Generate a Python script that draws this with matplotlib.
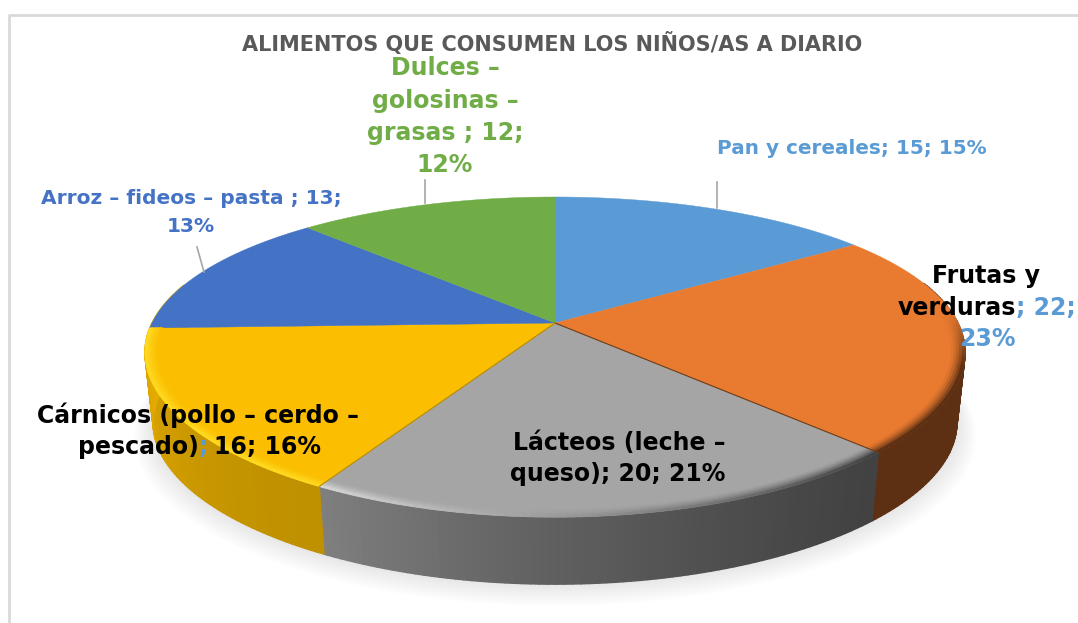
import numpy as np
import matplotlib
matplotlib.use('Agg')
import matplotlib.pyplot as plt
from matplotlib.collections import PolyCollection
from matplotlib.colors import to_rgb

# Values
categories = ['Pan y cereales', 'Frutas y verduras', 'Lácteos', 'Cárnicos', 'Arroz', 'Dulces']
values = [15, 22, 20, 16, 13, 12]
percents = [15, 23, 21, 16, 13, 12]
colors = ['#5B9BD5', '#E97B30', '#A5A5A5', '#FBBE00', '#4472C4', '#70AD47']
wall_start = ['#5B9BD5', '#5E3013', '#424242', '#BF9000', '#E6AC00', '#E6AC00']
wall_end = ['#5B9BD5', '#5E3013', '#808080', '#E6AC00', '#E6AC00', '#E6AC00']
bevel_start = ['#5B9BD5', '#5E3013', '#424242', '#FFD820', '#4472C4', '#70AD47']
bevel_end = ['#5B9BD5', '#5E3013', '#D8D8D8', '#FFD820', '#4472C4', '#70AD47']

BLUE = '#5B9BD5'
cx, cy = 555, 323
k = 0.2126
kx = 0.185
a, b = 152.8, 403
depth = 68
shrink = 0.98


def project(theta, r=1.0, low=False):
    # theta in degrees clockwise from the top, perspective squeezes the far side
    u = r * np.sin(np.radians(theta))
    v = r * np.cos(np.radians(theta))
    x = b * u / (1 + kx * v)
    y = -a * v / (1 + k * v)
    if low:
        return cx + x * shrink, cy + y * shrink + depth + 3
    return cx + x, cy + y


def blend(c1, c2, t):
    return tuple((1 - t) * np.array(to_rgb(c1)) + t * np.array(to_rgb(c2)))


fig = plt.figure(figsize=(10.78, 6.23), dpi=100)
ax = fig.add_axes([0, 0, 1, 1])
ax.set_xlim(0, 1078)
ax.set_ylim(623, 0)
ax.axis('off')

# chart frame
ax.plot([9, 9, 1078], [623, 15, 15], color='#D9D9D9', lw=2, zorder=1)

bounds = np.cumsum([0] + values) / sum(values) * 360

# soft shadow below the pie
th = np.linspace(0, 360, 361)
lx, ly = project(th, low=True)
for i in range(1, 13):
    s = 1 + i * 0.004
    ax.fill(cx + (lx - cx) * s, cy + 30 + (ly - cy - 30) * s + i * 0.9,
            color='black', alpha=0.009, lw=0, zorder=2)

# side wall, only the front part shows
polys, cols = [], []
for i in range(len(values)):
    steps = np.arange(bounds[i], bounds[i + 1], 1.0)
    steps = np.append(steps, bounds[i + 1])
    for t0, t1 in zip(steps[:-1], steps[1:]):
        if t1 < 75 or t0 > 285:
            continue
        x0, y0 = project(t0)
        x1, y1 = project(t1)
        x2, y2 = project(t1, low=True)
        x3, y3 = project(t0, low=True)
        polys.append([(x0, y0), (x1, y1), (x2, y2), (x3, y3)])
        frac = (t0 - bounds[i]) / (bounds[i + 1] - bounds[i])
        cols.append(blend(wall_start[i], wall_end[i], frac ** 1.4))
ax.add_collection(PolyCollection(polys, facecolors=cols, edgecolors=cols, linewidths=1.0, zorder=3))

# top face
for i in range(len(values)):
    th = np.linspace(bounds[i], bounds[i + 1], 120)
    x, y = project(th)
    ax.fill(np.r_[cx, x], np.r_[cy, y], color=colors[i], lw=0.3, zorder=4)

# bevel along the front rim, fades out towards the back
radii = np.linspace(0.968, 1.0, 6)
polys, cols = [], []
for i in range(len(values)):
    steps = np.arange(bounds[i], bounds[i + 1], 1.0)
    steps = np.append(steps, bounds[i + 1])
    for t0, t1 in zip(steps[:-1], steps[1:]):
        if t1 < 85 or t0 > 268:
            continue
        frac = (t0 - bounds[i]) / (bounds[i + 1] - bounds[i])
        edge = blend(bevel_start[i], bevel_end[i], frac)
        fade = min(1, max(0, (t0 - 85) / 20))
        for r0, r1 in zip(radii[:-1], radii[1:]):
            x0, y0 = project(t0, r0)
            x1, y1 = project(t1, r0)
            x2, y2 = project(t1, r1)
            x3, y3 = project(t0, r1)
            polys.append([(x0, y0), (x1, y1), (x2, y2), (x3, y3)])
            mix = (r1 - radii[0]) / (radii[-1] - radii[0])
            cols.append(blend(colors[i], edge, fade * mix ** 1.5))
ax.add_collection(PolyCollection(polys, facecolors=cols, edgecolors=cols, linewidths=0.7, zorder=5))

# thin lines between slices on the lit side
x, y = project(bounds[2])
ax.plot([cx, x], [cy, y], color='#6E3A12', lw=0.8, zorder=6)
x, y = project(bounds[3])
ax.plot([cx, x], [cy, y], color='#B58A00', lw=0.8, zorder=6)

# leader lines
ax.plot([717, 717], [182, 208], color='#A6A6A6', lw=1.2, zorder=6)
ax.plot([425, 425], [180, 203], color='#A6A6A6', lw=1.2, zorder=6)
ax.plot([197, 204], [247, 272], color='#A6A6A6', lw=1.2, zorder=6)

fam = ['DejaVu Sans']
font = dict(family=fam, weight='bold', zorder=8)
LS = 17
MS = 14.5

ax.text(552, 43, 'ALIMENTOS QUE CONSUMEN LOS NIÑOS/AS A DIARIO', color='#595959',
        fontsize=15, ha='center', va='center', **font)
ax.text(351, -9, 'p', family='Liberation Serif', fontsize=16, color='black', ha='center', va='center')

ax.text(852, 148, f'Pan y cereales; {values[0]}; {percents[0]}%', color=BLUE, fontsize=14.4,
        ha='center', va='center', **font)
ax.text(191, 198, f'Arroz – fideos – pasta ; {values[4]};', color=colors[4], fontsize=MS,
        ha='center', va='center', **font)
ax.text(191, 226, f'{percents[4]}%', color=colors[4], fontsize=MS, ha='center', va='center', **font)

green = colors[5]
ax.text(445, 68, 'Dulces –', color=green, fontsize=LS, ha='center', va='center', **font)
ax.text(445, 101, 'golosinas –', color=green, fontsize=LS, ha='center', va='center', **font)
ax.text(445, 133, f'grasas ; {values[5]};', color=green, fontsize=LS, ha='center', va='center', **font)
ax.text(445, 165, f'{percents[5]}%', color=green, fontsize=LS, ha='center', va='center', **font)

ax.text(986, 276, 'Frutas y', color='black', fontsize=LS, ha='center', va='center', **font)
ax.text(1016, 308, 'verduras', color='black', fontsize=LS, ha='right', va='center', **font)
ax.text(1016, 308, f'; {values[1]};', color=BLUE, fontsize=LS, ha='left', va='center', **font)
ax.text(987, 339, f'{percents[1]}%', color=BLUE, fontsize=LS, ha='center', va='center', **font)

ax.text(619, 443, 'Lácteos (leche –', color='black', fontsize=LS, ha='center', va='center', **font)
ax.text(618, 474, f'queso); {values[2]}; {percents[2]}%', color='black', fontsize=LS, ha='center', va='center', **font)

ax.text(198, 415, 'Cárnicos (pollo – cerdo –', color='black', fontsize=LS, ha='center', va='center', **font)
ax.text(199, 447, 'pescado)', color='black', fontsize=LS, ha='right', va='center', **font)
ax.text(199, 447, ';', color=BLUE, fontsize=LS, ha='left', va='center', **font)
ax.text(214, 447, f'{values[3]}; {percents[3]}%', color='black', fontsize=LS, ha='left', va='center', **font)

fig.savefig('out.png', dpi=100)
